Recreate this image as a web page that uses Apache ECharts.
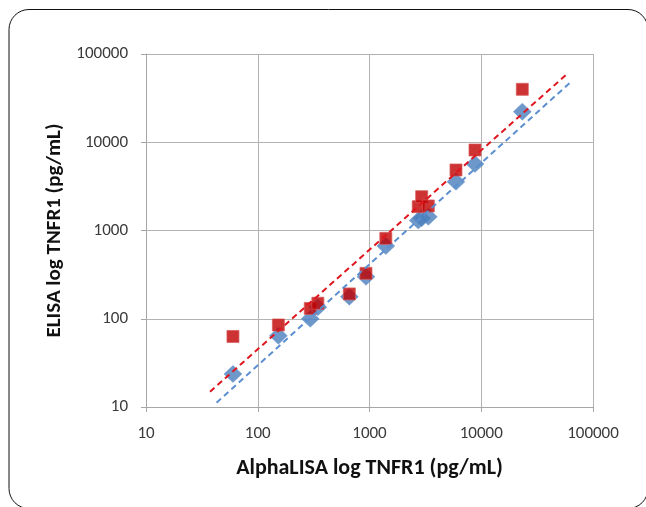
<!DOCTYPE html>
<html>
<head>
<meta charset="utf-8">
<script src="https://cdn.jsdelivr.net/npm/echarts@6/dist/echarts.min.js"></script>
<style>
html,body{margin:0;padding:0;background:#fff;}
#c{width:646px;height:507px;}
</style>
</head>
<body>
<div id="c"></div>
<script>
// AlphaLISA x values (pg/mL)
const alphaX = [60, 153, 295, 345, 660, 930, 1400, 2730, 2930, 3360, 5940, 8790, 23300];
// Blue series (diamonds) ELISA y values
const blueY = [23.7, 64, 100, 135, 178, 299, 667, 1300, 1380, 1430, 3570, 5680, 22200];
// Red series (squares) ELISA y values
const redY = [63, 85, 131, 150, 191, 327, 815, 1862, 2415, 1897, 4850, 8170, 39800];
// Trend line endpoints
const redTrendX = [37.4, 59400];
const redTrendY = [14.9, 60400];
const blueTrendX = [42.8, 62200];
const blueTrendY = [11.2, 47300];
const axisTicks = [10, 100, 1000, 10000, 100000];

const zip = (a, b) => a.map((v, i) => [v, b[i]]);
const font = 'Carlito, Lato, "Liberation Sans", sans-serif';
const fmt = v => String(Math.round(v));

const chart = echarts.init(document.getElementById('c'));
chart.setOption({
  animation: false,
  backgroundColor: '#fff',
  graphic: [{
    type: 'rect',
    shape: {x: 9, y: 9.5, width: 639, height: 499, r: 20},
    style: {fill: 'none', stroke: '#111', lineWidth: 1},
    z: -10
  }],
  grid: {left: 146, right: 53, top: 54, bottom: 100, containLabel: false},
  xAxis: {
    type: 'log', logBase: 10, min: axisTicks[0], max: axisTicks[axisTicks.length - 1],
    name: 'AlphaLISA log TNFR1 (pg/mL)', nameLocation: 'middle', nameGap: 50,
    nameTextStyle: {fontFamily: font, fontWeight: 'bold', fontSize: 22, color: '#111'},
    axisLine: {show: true, lineStyle: {color: '#a6a6a6', width: 1}},
    axisTick: {show: true, length: 5, inside: false, lineStyle: {color: '#a6a6a6'}},
    axisLabel: {fontFamily: font, fontSize: 17, color: '#3a3a3a', margin: 18, formatter: fmt},
    splitLine: {show: true, lineStyle: {color: '#b3b3b3', width: 1}},
    minorTick: {show: false}, minorSplitLine: {show: false}
  },
  yAxis: {
    type: 'log', logBase: 10, min: axisTicks[0], max: axisTicks[axisTicks.length - 1],
    name: 'ELISA log TNFR1 (pg/mL)', nameLocation: 'middle', nameGap: 80,
    nameTextStyle: {fontFamily: font, fontWeight: 'bold', fontSize: 21, color: '#111'},
    axisLine: {show: true, lineStyle: {color: '#a6a6a6', width: 1}},
    axisTick: {show: true, length: 5, inside: false, lineStyle: {color: '#a6a6a6'}},
    axisLabel: {fontFamily: font, fontSize: 17, color: '#3a3a3a', margin: 18, formatter: fmt},
    splitLine: {show: true, lineStyle: {color: '#b3b3b3', width: 1}}
  },
  series: [
    {
      type: 'scatter', name: 'blue', symbol: 'diamond', symbolSize: [18, 17],
      data: zip(alphaX, blueY),
      itemStyle: {color: '#4a7ebb', borderColor: '#5b8fd0', borderWidth: 0.5},
      z: 2
    },
    {
      type: 'scatter', name: 'red', symbol: 'rect', symbolSize: 12,
      data: zip(alphaX, redY),
      itemStyle: {color: '#c00000', borderColor: 'rgba(215,90,90,0.9)', borderWidth: 1},
      z: 3
    },
    {
      type: 'line', name: 'redTrend', data: zip(redTrendX, redTrendY), showSymbol: false, symbol: 'none',
      lineStyle: {color: '#e0161e', width: 2, type: [6, 4]}, z: 4, silent: true
    },
    {
      type: 'line', name: 'blueTrend', data: zip(blueTrendX, blueTrendY), showSymbol: false, symbol: 'none',
      lineStyle: {color: '#5b8fd0', width: 2, type: [6, 4]}, z: 4, silent: true
    }
  ]
});
</script>
</body>
</html>
